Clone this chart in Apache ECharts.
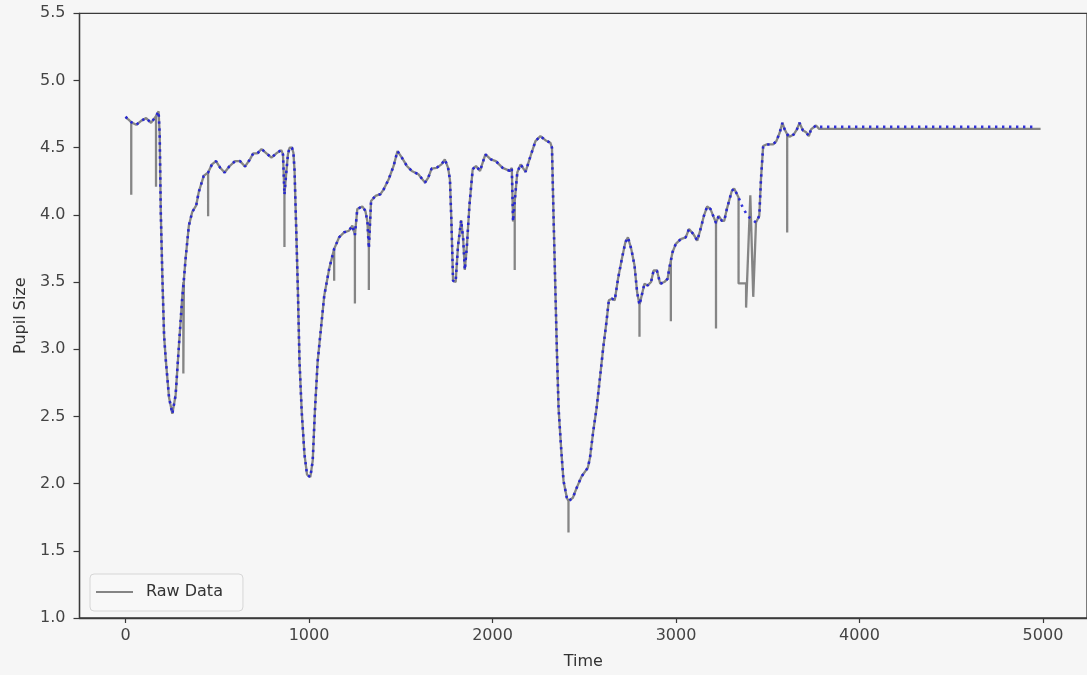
<!DOCTYPE html>
<html>
<head>
<meta charset="utf-8">
<script src="https://cdn.jsdelivr.net/npm/echarts@6/dist/echarts.min.js"></script>
<style>
  html, body { margin: 0; padding: 0; background: #f6f6f6; }
  #chart { width: 1087px; height: 675px; }
</style>
</head>
<body>
<div id="chart"></div>
<script>
// Smoothed (blue dotted) trace
const smoothTime = [0,15,31,58,85,112,139,166,180,186,192,201,210,220,237,255,273,291,306,318,327,345,363,385,399,426,450,471,493,516,540,565,597,624,651,678,696,719,741,768,795,822,849,858,866,875,885,894,907,915,921,930,939,948,960,975,989,1007,1020,1032,1047,1065,1083,1110,1137,1164,1191,1218,1236,1250,1263,1290,1307,1318,1326,1338,1362,1389,1407,1434,1461,1482,1506,1533,1560,1596,1632,1650,1668,1695,1722,1740,1758,1768,1776,1785,1799,1812,1829,1840,1849,1860,1874,1892,1910,1932,1961,1991,2018,2055,2094,2105,2112,2121,2135,2153,2180,2207,2234,2261,2288,2315,2324,2333,2342,2351,2360,2375,2387,2405,2414,2423,2438,2459,2486,2519,2531,2549,2567,2585,2603,2621,2634,2651,2666,2684,2705,2724,2738,2756,2774,2788,2801,2813,2828,2846,2864,2878,2896,2914,2936,2954,2963,2972,2981,2999,3026,3053,3071,3094,3116,3134,3152,3170,3188,3206,3218,3233,3250,3263,3277,3304,3317,3341,3365,3392,3420,3436,3454,3463,3475,3493,3529,3547,3565,3580,3592,3606,3619,3641,3659,3673,3691,3709,3724,3736,3763,3780,4950];
const smoothSize = [4.73,4.71,4.69,4.67,4.70,4.72,4.685,4.735,4.77,4.60,4.02,3.52,3.10,2.91,2.64,2.52,2.66,3.03,3.33,3.52,3.67,3.92,4.02,4.07,4.17,4.29,4.315,4.376,4.40,4.35,4.315,4.36,4.40,4.40,4.36,4.413,4.458,4.458,4.49,4.458,4.426,4.458,4.482,4.45,4.15,4.30,4.45,4.50,4.50,4.46,4.33,3.90,3.45,2.91,2.54,2.22,2.067,2.048,2.17,2.54,2.91,3.154,3.40,3.60,3.747,3.833,3.87,3.882,3.92,3.85,4.043,4.063,4.03,3.95,3.75,4.104,4.141,4.154,4.19,4.265,4.364,4.475,4.426,4.364,4.327,4.302,4.24,4.278,4.344,4.35,4.376,4.413,4.35,4.26,3.95,3.51,3.50,3.77,3.96,3.82,3.59,3.76,4.067,4.34,4.364,4.327,4.45,4.413,4.40,4.35,4.327,4.35,3.95,4.10,4.315,4.376,4.32,4.437,4.549,4.586,4.556,4.537,4.50,3.97,3.475,2.98,2.56,2.24,2.02,1.895,1.87,1.858,1.895,1.97,2.055,2.117,2.19,2.39,2.56,2.78,3.006,3.204,3.364,3.376,3.364,3.524,3.673,3.796,3.833,3.747,3.623,3.426,3.33,3.40,3.487,3.475,3.50,3.586,3.586,3.487,3.50,3.524,3.60,3.66,3.722,3.784,3.82,3.833,3.895,3.858,3.808,3.895,3.993,4.063,4.043,3.981,3.94,3.993,3.956,3.956,4.043,4.178,4.196,4.13,4.05,3.99,3.96,3.944,3.993,4.265,4.512,4.524,4.524,4.549,4.611,4.685,4.636,4.60,4.581,4.598,4.636,4.685,4.63,4.615,4.586,4.636,4.665,4.655,4.655];

// Raw (gray) trace, including blink artefacts
const rawTime = [0,15,31,31,31,58,85,112,139,166,166,166,180,186,192,201,210,220,237,255,273,291,306,315,315,318,327,345,363,385,399,426,450,450,450,471,493,516,540,565,597,624,651,678,696,719,741,768,795,822,849,858,866,866,866,875,885,894,907,915,921,930,939,948,960,975,989,1007,1020,1032,1047,1065,1083,1110,1137,1137,1137,1164,1191,1218,1236,1250,1250,1250,1263,1290,1307,1318,1326,1326,1326,1338,1362,1389,1407,1434,1461,1482,1506,1533,1560,1596,1632,1650,1668,1695,1722,1740,1758,1768,1776,1785,1799,1812,1829,1840,1849,1860,1874,1892,1910,1932,1961,1991,2018,2055,2094,2105,2112,2121,2121,2121,2135,2153,2180,2207,2234,2261,2288,2315,2324,2333,2342,2351,2360,2375,2387,2405,2414,2414,2414,2423,2438,2459,2486,2519,2531,2549,2567,2585,2603,2621,2634,2651,2666,2684,2705,2724,2738,2756,2774,2788,2801,2801,2801,2813,2828,2846,2864,2878,2896,2914,2936,2954,2963,2972,2972,2972,2981,2999,3026,3053,3071,3094,3116,3134,3152,3170,3188,3206,3218,3218,3218,3233,3250,3263,3277,3304,3317,3341,3341,3382,3382,3405,3421,3436,3454,3463,3475,3493,3529,3547,3565,3580,3592,3606,3606,3606,3619,3641,3659,3673,3691,3709,3724,3736,3763,3780,4987];
const rawSize = [4.73,4.71,4.69,4.15,4.69,4.67,4.70,4.72,4.685,4.735,4.21,4.735,4.77,4.60,4.02,3.52,3.10,2.91,2.64,2.52,2.66,3.03,3.33,3.50,2.82,3.52,3.67,3.92,4.02,4.07,4.17,4.29,4.315,3.99,4.315,4.376,4.40,4.35,4.315,4.36,4.40,4.40,4.36,4.413,4.458,4.458,4.49,4.458,4.426,4.458,4.482,4.45,4.15,3.76,4.15,4.30,4.45,4.50,4.50,4.46,4.33,3.90,3.45,2.91,2.54,2.22,2.067,2.048,2.17,2.54,2.91,3.154,3.40,3.60,3.747,3.51,3.747,3.833,3.87,3.882,3.92,3.85,3.34,3.85,4.043,4.063,4.03,3.95,3.75,3.44,3.75,4.104,4.141,4.154,4.19,4.265,4.364,4.475,4.426,4.364,4.327,4.302,4.24,4.278,4.344,4.35,4.376,4.413,4.35,4.26,3.95,3.51,3.50,3.77,3.96,3.82,3.59,3.76,4.067,4.34,4.364,4.327,4.45,4.413,4.40,4.35,4.327,4.35,3.95,4.10,3.59,4.10,4.315,4.376,4.32,4.437,4.549,4.586,4.556,4.537,4.50,3.97,3.475,2.98,2.56,2.24,2.02,1.895,1.87,1.636,1.87,1.858,1.895,1.97,2.055,2.117,2.19,2.39,2.56,2.78,3.006,3.204,3.364,3.376,3.364,3.524,3.673,3.796,3.833,3.747,3.623,3.426,3.33,3.093,3.33,3.40,3.487,3.475,3.50,3.586,3.586,3.487,3.50,3.524,3.60,3.66,3.209,3.66,3.722,3.784,3.82,3.833,3.895,3.858,3.808,3.895,3.993,4.063,4.043,3.981,3.94,3.154,3.94,3.993,3.956,3.956,4.043,4.178,4.196,4.13,3.49,3.49,3.31,4.145,3.39,3.944,3.993,4.265,4.512,4.524,4.524,4.549,4.611,4.685,4.636,4.60,3.868,4.60,4.581,4.598,4.636,4.685,4.63,4.615,4.586,4.636,4.665,4.64,4.64];

const xTicks = [0, 1000, 2000, 3000, 4000, 5000];
const yTicks = [1.0, 1.5, 2.0, 2.5, 3.0, 3.5, 4.0, 4.5, 5.0, 5.5];

const zip = (a, b) => a.map((t, i) => [t, b[i]]);

const FONT = 'DejaVu Sans';
const chart = echarts.init(document.getElementById('chart'), null, { renderer: 'canvas' });
chart.setOption({
  animation: false,
  backgroundColor: '#f6f6f6',
  grid: {
    left: 79.5, top: 13.3, width: 1017.5, height: 607.5,
    show: true, borderColor: '#3a3a3a', borderWidth: 1.3, backgroundColor: 'transparent'
  },
  legend: {
    data: [{ name: 'Raw Data', icon: 'rect' }],
    left: 90, top: 574,
    orient: 'vertical',
    backgroundColor: 'rgba(248,248,248,0.85)',
    borderColor: '#d6d6d6', borderWidth: 1, borderRadius: 4,
    padding: [10, 20, 11, 6],
    itemWidth: 37, itemHeight: 2, itemGap: 4,
    itemStyle: { color: '#858585' },
    textStyle: { fontFamily: FONT, fontSize: 16, color: '#333', padding: [0, 0, 0, 8] }
  },
  xAxis: {
    type: 'value', min: -251, max: 5240,
    name: 'Time', nameLocation: 'middle', nameGap: 36,
    nameTextStyle: { fontFamily: FONT, fontSize: 16, color: '#333' },
    axisLine: { show: true, onZero: false, lineStyle: { color: '#3a3a3a', width: 1.3 } },
    axisTick: { show: true, length: 5, customValues: xTicks, lineStyle: { color: '#3a3a3a', width: 1.2 } },
    axisLabel: { customValues: xTicks, margin: 10, fontFamily: FONT, fontSize: 16, color: '#444',
      formatter: v => String(v) },
    splitLine: { show: false }
  },
  yAxis: {
    type: 'value', min: 1.0, max: 5.5, interval: 0.5,
    name: 'Pupil Size', nameLocation: 'middle', nameGap: 50, nameRotate: 90,
    nameTextStyle: { fontFamily: FONT, fontSize: 16, color: '#333' },
    axisLine: { show: true, onZero: false, lineStyle: { color: '#3a3a3a', width: 1.3 } },
    axisTick: { show: true, length: 6, lineStyle: { color: '#3a3a3a', width: 1.2 } },
    axisLabel: {
      margin: 14, fontFamily: FONT, fontSize: 16, color: '#444',
      formatter: v => yTicks.includes(v) ? v.toFixed(1) : ''
    },
    splitLine: { show: false }
  },
  series: [
    {
      name: 'Raw Data', type: 'line', data: zip(rawTime, rawSize),
      showSymbol: false, symbol: 'none',
      lineStyle: { color: '#858585', width: 2.3 },
      itemStyle: { color: '#858585' },
      z: 2
    },
    {
      name: 'Smoothed', type: 'line', data: zip(smoothTime, smoothSize),
      showSymbol: false, symbol: 'none',
      lineStyle: { color: 'rgba(30,30,215,0.9)', width: 2.6, type: [2.4, 4.6] },
      z: 3
    }
  ]
});
</script>
</body>
</html>
